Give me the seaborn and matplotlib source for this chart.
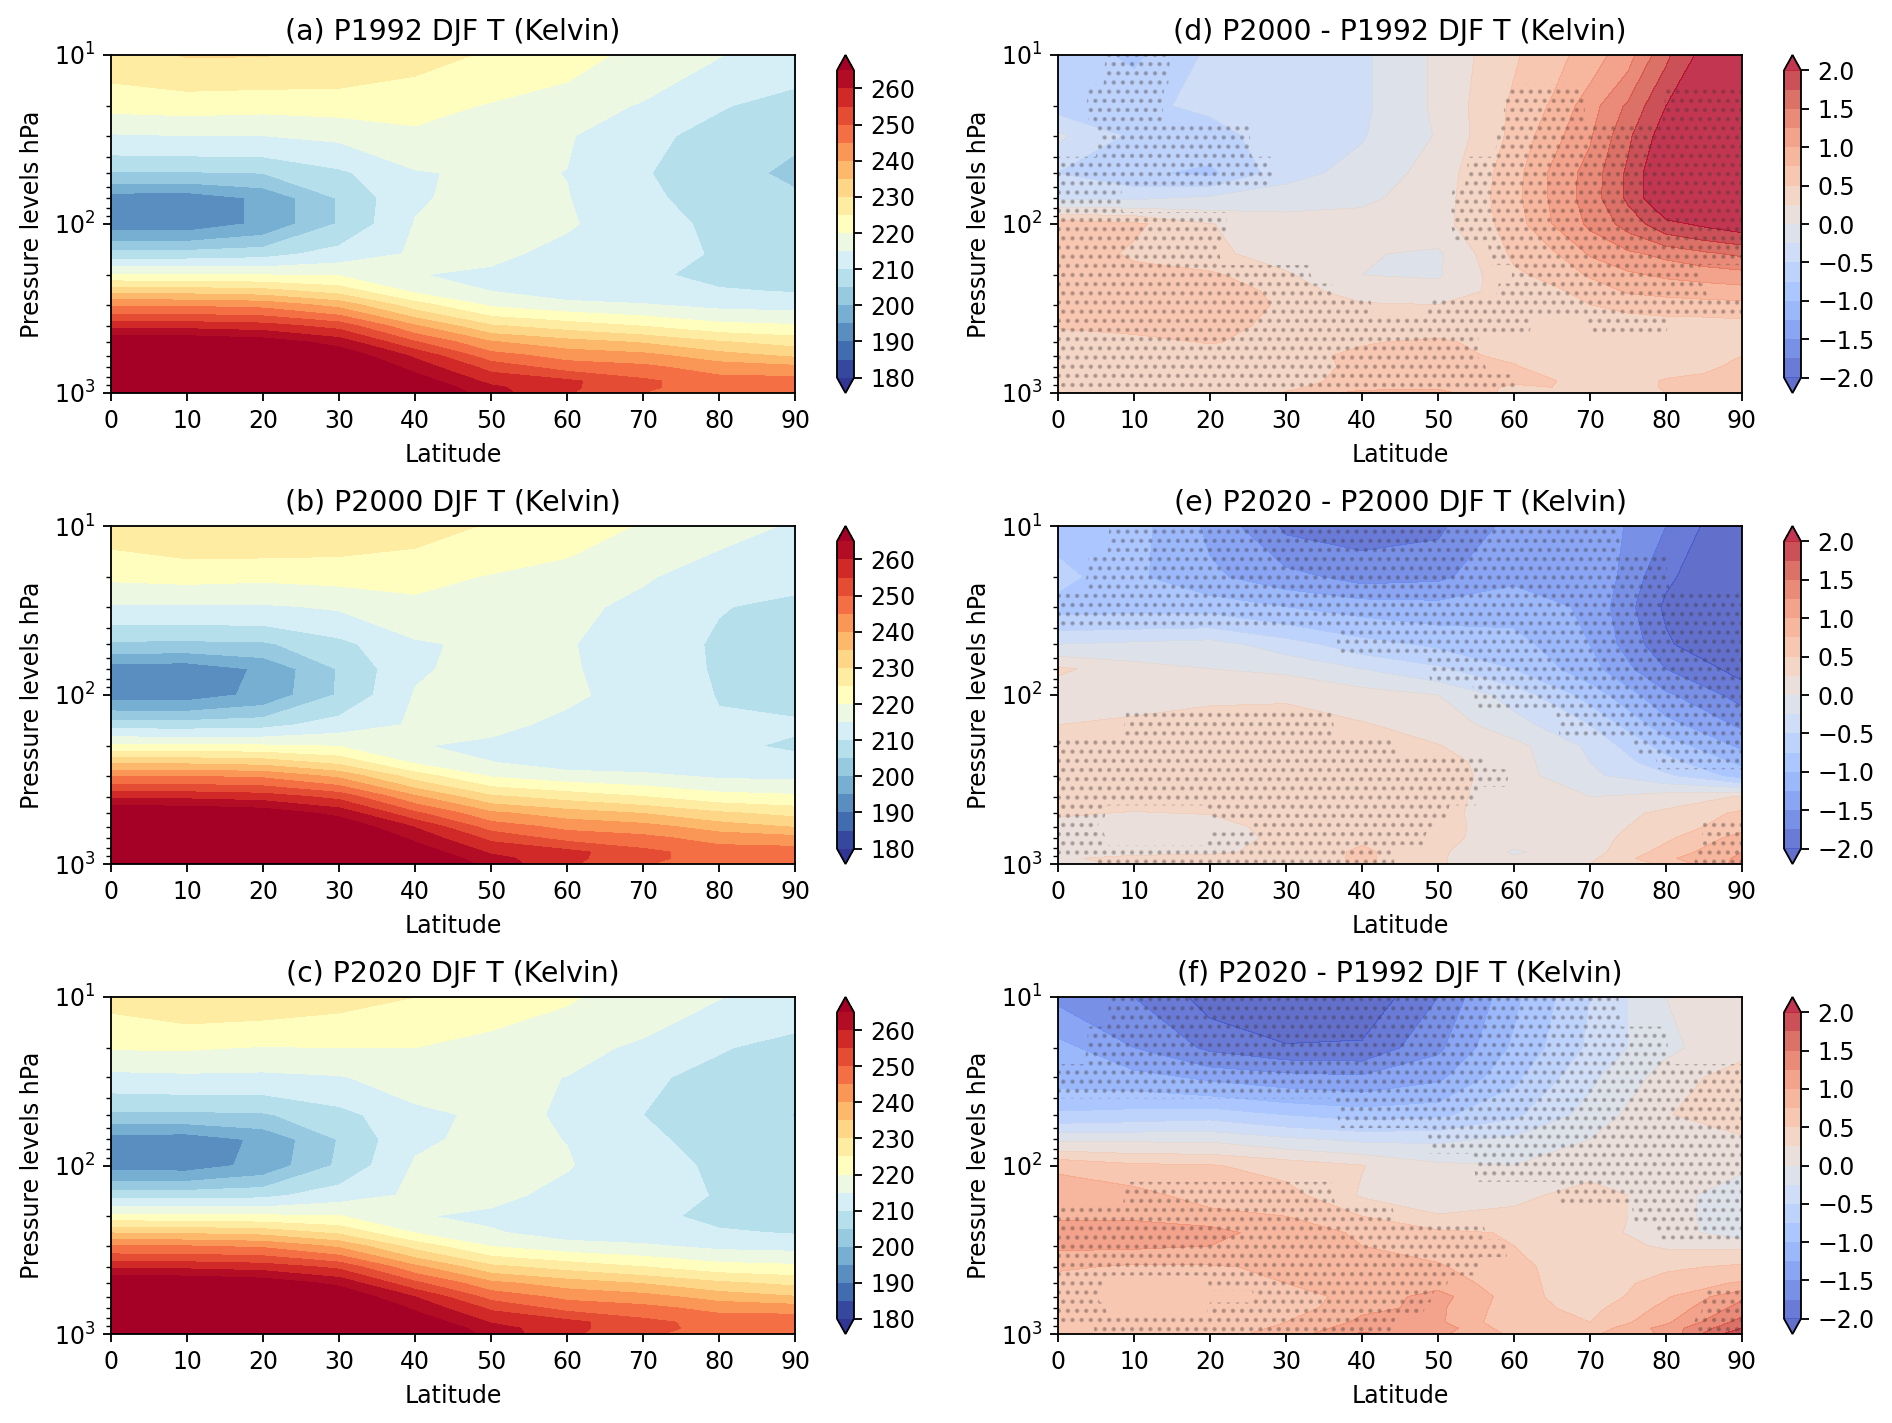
import numpy as np
import matplotlib
matplotlib.use("Agg")
import matplotlib.pyplot as plt
import seaborn as sns

sns.set_theme(style="ticks", rc={"font.family": "DejaVu Sans", "axes.edgecolor": "black",
                                 "xtick.color": "black", "ytick.color": "black",
                                 "text.color": "black", "axes.labelcolor": "black",
                                 "hatch.linewidth": 1.15})

pressure = [10, 20, 30, 50, 70, 100, 150, 200, 250, 300, 400, 500, 600, 700, 850, 925, 1000]
latitude = [0, 10, 20, 30, 40, 50, 60, 70, 80, 90]
latitude_d = [0, 10, 20, 30, 40, 50, 60, 65, 70, 75, 80, 85, 90]
xtick_labels = latitude
t_ticks = [180, 190, 200, 210, 220, 230, 240, 250, 260]
d_ticks = [-2.0, -1.5, -1.0, -0.5, 0.0, 0.5, 1.0, 1.5, 2.0]

# Temperature, one list per latitude, top of the atmosphere to the surface
t_a_columns = [
    [228, 221.5, 214.5, 204.5, 192.4, 192, 207, 220.5, 233.5, 244, 258.5, 270, 276, 282, 288, 292, 295],
    [230.3, 222, 215, 204.5, 192, 192, 207, 220.5, 233, 244, 258, 270, 275, 281, 287, 290, 293],
    [230.2, 221.5, 215, 205, 196, 196, 208, 220, 232, 243, 257, 268, 273, 278, 283, 286, 288],
    [229, 222, 216, 209, 205.5, 205.5, 212, 219.5, 228, 238, 253, 263, 269, 273, 278, 281, 283],
    [226.5, 222, 218.8, 214.5, 214.5, 215.2, 215.6, 215.2, 219, 227, 240.5, 250.5, 259, 263, 268, 270, 272],
    [224.5, 219.5, 217.5, 216, 216.5, 217, 216.5, 213.8, 215, 219, 230.5, 240.5, 247, 253, 258.5, 261, 262],
    [222, 217.5, 215.5, 214.9, 215.2, 215.7, 213, 211.5, 212, 216.5, 227.5, 237, 243, 247.5, 256, 256, 255.5],
    [218.5, 214.5, 211, 210.2, 210.7, 211.3, 212, 211, 211.5, 215.3, 224.7, 234.5, 241.5, 246, 251, 250.8, 250],
    [215.2, 210.3, 208.7, 208.5, 208.5, 209.3, 209.5, 208.5, 210.5, 213.5, 221.5, 230.5, 237, 242.5, 247, 247.5, 247],
    [212, 208.5, 206.5, 203, 206.5, 207, 207, 207.5, 209.7, 213, 220.5, 228, 234, 241, 247, 247, 246],
]
t_b_columns = [
    [227.4, 220.9, 214.3, 204.0, 192.1, 192.7, 207.7, 221.2, 234.2, 244.6, 259.0, 270.4, 276.4, 282.4, 288.4, 292.3, 295.3],
    [229.5, 221.5, 214.5, 203.8, 191.7, 192.6, 207.5, 221.1, 233.7, 244.7, 258.6, 270.4, 275.3, 281.3, 287.3, 290.3, 293.3],
    [229.8, 221, 214.4, 204.2, 195.8, 196.3, 208.3, 220.6, 232.7, 243.7, 257.6, 268.5, 273.4, 278.3, 283.3, 286.3, 288.3],
    [228.6, 221.6, 215.6, 208.6, 205.4, 205.6, 212.2, 219.8, 228.4, 238.5, 253.4, 263.4, 269.4, 273.4, 278.4, 281.5, 283.5],
    [226.8, 221.7, 218.5, 214.3, 214.4, 215.3, 215.6, 215.3, 219.1, 227.3, 240.9, 251, 259.6, 263.6, 268.6, 270.6, 272.9],
    [224.6, 219.6, 217.5, 216.1, 216.6, 217.2, 216.5, 213.8, 215.1, 219.3, 230.9, 241, 247.6, 253.6, 259.2, 261.7, 262.9],
    [222.4, 218, 216.5, 215.4, 215.6, 216, 213.6, 211.9, 212.4, 216.9, 227.9, 237.4, 243.5, 248, 256.6, 256.5, 255.9],
    [219.6, 215.6, 213.5, 212.4, 212.5, 212.8, 213.1, 212.4, 212.2, 215.9, 225.1, 234.8, 241.8, 246.3, 251.4, 251.1, 250.3],
    [216.7, 212.3, 210.2, 209.4, 209.5, 209.8, 210.4, 210.5, 211.5, 214.1, 221.9, 230.8, 237.4, 242.9, 247.5, 248.1, 247.5],
    [214.5, 211.1, 209.1, 206, 208, 209, 210.4, 209.6, 210.8, 213.7, 220.9, 228.4, 234.5, 241.5, 247.6, 247.6, 246.6],
]
t_c_columns = [
    [226.5, 220.4, 213.4, 203.8, 192.3, 192.7, 207.9, 221.5, 234.7, 245, 259.3, 270.6, 276.6, 282.6, 288.6, 292.6, 295.7],
    [228.6, 220.5, 213.9, 203.9, 192, 192.6, 207.9, 221.5, 234.2, 245, 258.7, 270.6, 275.6, 281.6, 287.6, 290.6, 293.7],
    [228.1, 219.7, 213.7, 204.4, 196, 196.5, 208.6, 220.9, 233.1, 244, 257.7, 268.7, 273.6, 278.6, 283.6, 286.6, 288.7],
    [226.6, 220, 214.6, 208.3, 205.3, 205.9, 212.6, 220.3, 228.9, 238.9, 253.8, 263.8, 269.6, 273.6, 278.8, 281.8, 283.9],
    [225, 220, 217.4, 213.7, 214.2, 215.5, 215.8, 215.4, 219.7, 227.8, 241.3, 251.3, 259.9, 264, 269, 271.2, 273.3],
    [222.8, 218, 216.2, 216, 216.2, 217, 216.6, 213.8, 215.6, 219.7, 231.3, 241.4, 248.1, 254, 259.6, 262.2, 263],
    [220.5, 216.6, 214.9, 214.6, 214.9, 215.4, 213.2, 211.9, 212.5, 217, 228, 237.6, 243.6, 248.1, 256.6, 256.6, 256.2],
    [217.8, 214.1, 210.7, 210, 210.7, 211.4, 212.4, 211.4, 211.9, 215.7, 225.1, 234.8, 241.8, 246.4, 251.5, 251.4, 250.7],
    [215.2, 210.3, 208.8, 208.7, 208.7, 209.4, 209.6, 208.6, 210.6, 213.7, 222, 231.1, 237.7, 243.3, 248, 248.6, 248],
    [212.2, 208.7, 206.9, 204.8, 206.7, 207.1, 206.9, 207.4, 209.6, 213.2, 221.1, 228.8, 235.2, 242.4, 248.6, 248.8, 248],
]

# Differences, one list per pressure level
dt_d_rows = [
    [-.6, -.8, -.45, -.4, -.3, .05, .47, .65, .87, 1.15, 1.7, 2.1, 2.4],
    [-.6, -.55, -.45, -.4, -.3, .05, .55, .78, 1.14, 1.55, 2.0, 2.3, 2.6],
    [-.2, -.55, -.6, -.35, -.27, .02, .57, .9, 1.22, 1.7, 2.15, 2.5, 2.7],
    [-.5, -.7, -.8, -.35, -.15, .1, .65, 1.05, 1.35, 1.8, 2.3, 2.6, 2.7],
    [-.3, -.3, -.2, -.1, -.05, .12, .67, 1.04, 1.37, 1.8, 2.3, 2.6, 2.7],
    [.65, .55, .26, .1, .1, .15, .62, 1.0, 1.3, 1.6, 1.93, 2.05, 2.15],
    [.7, .45, .3, .15, .02, -.04, .55, .7, 1.03, 1.2, 1.32, 1.45, 1.55],
    [.72, .6, .55, .28, .0, -.03, .45, .58, .78, .95, 1.05, 1.1, 1.15],
    [.72, .65, .7, .4, .1, .1, .36, .44, .6, .78, .82, .87, .9],
    [.6, .65, .7, .45, .28, .25, .38, .38, .5, .58, .65, .66, .68],
    [.52, .6, .62, .4, .35, .35, .36, .34, .36, .36, .36, .37, .4],
    [.4, .4, .52, .4, .48, .55, .36, .34, .32, .33, .33, .37, .42],
    [.4, .33, .35, .42, .55, .57, .45, .42, .32, .33, .36, .4, .5],
    [.35, .3, .3, .4, .55, .6, .52, .4, .33, .37, .42, .46, .55],
    [.35, .3, .3, .4, .6, .65, .55, .52, .36, .42, .52, .55, .57],
    [.3, .3, .3, .45, .65, .7, .45, .5, .34, .42, .52, .55, .57],
    [.3, .3, .3, .52, .85, .85, .4, .3, .3, .38, .5, .55, .55],
]
dt_e_rows = [
    [-.85, -.9, -1.3, -1.8, -1.85, -1.8, -1.4, -1.3, -1.75, -2.3],
    [-.65, -.95, -1.2, -1.4, -1.6, -1.55, -1.3, -1.25, -1.95, -2.3],
    [-.85, -.85, -.85, -1.0, -1.1, -1.15, -1.1, -1.3, -2.05, -2.4],
    [-.25, -.2, -.15, -.38, -.65, -.8, -.9, -1.25, -1.95, -2.4],
    [.3, .1, .0, -.05, -.25, -.45, -.75, -1.15, -1.75, -2.1],
    [.1, .15, .18, .2, .12, .0, -.35, -.85, -1.45, -1.85],
    [.25, .3, .4, .4, .27, .15, -.15, -.5, -1.15, -1.55],
    [.4, .4, .45, .45, .4, .26, .08, -.3, -.85, -1.3],
    [.43, .45, .47, .47, .43, .35, .1, -.25, -.65, -1.05],
    [.42, .42, .42, .45, .42, .38, .1, -.2, -.45, -.85],
    [.38, .33, .3, .4, .35, .35, .1, .0, .12, .27],
    [.27, .24, .26, .38, .36, .33, .1, .12, .3, .55],
    [.2, .15, .15, .35, .35, .33, .12, .15, .35, .65],
    [.1, .1, .12, .32, .45, .33, .1, .15, .45, .85],
    [.15, .15, .22, .3, .55, .3, -.03, .15, .6, 1.0],
    [.2, .35, .3, .32, .55, .28, .03, .2, .7, 1.05],
    [.15, .3, .3, .3, .55, .27, .1, .25, .55, 1.1],
]
dt_f_rows = [
    [-1.55, -1.75, -2.1, -2.4, -2.2, -1.75, -1.05, -.5, .0, .15],
    [-1.15, -1.5, -1.8, -1.95, -1.95, -1.55, -.95, -.45, -.05, .15],
    [-1.1, -1.15, -1.3, -1.4, -1.45, -1.3, -.8, -.3, .1, .4],
    [-.7, -.65, -.6, -.75, -.85, -.8, -.55, -.15, .23, .45],
    [-.05, -.05, -.05, -.2, -.3, -.3, -.2, .0, .2, .2],
    [.7, .55, .52, .4, .26, .05, .0, .1, .08, .05],
    [.9, .85, .62, .6, .22, .1, .15, .4, .1, -.15],
    [.95, .95, .85, .75, .5, .27, .35, .4, .1, -.15],
    [1.15, 1.15, 1.1, .85, .72, .55, .48, .35, .12, -.15],
    [1.05, 1.05, 1.0, .85, .75, .65, .5, .35, .22, .2],
    [.8, .7, .72, .8, .8, .78, .55, .38, .45, .55],
    [.6, .6, .72, .75, .8, .9, .6, .32, .62, .78],
    [.6, .6, .55, .62, .85, 1.1, .62, .32, .72, 1.2],
    [.6, .55, .55, .6, .95, 1.05, .6, .42, .82, 1.35],
    [.6, .58, .55, .75, 1.05, 1.05, .55, .5, .95, 1.6],
    [.62, .6, .6, .8, 1.15, 1.15, .6, .6, 1.1, 1.75],
    [.65, .65, .65, .85, 1.3, 1.05, .7, .7, 1.05, 2.0],
]

# Stippled latitude ranges, one list per pressure level
sig_d = [
    [(6.5, 14.5)], [(4, 13.5), (59, 69), (80, 90)], [(5.5, 25), (58, 90)], [(0, 28), (54, 90)],
    [(0, 8), (52, 90)], [(0, 22), (52, 90)], [(0, 21), (57, 90)], [(0, 33), (60, 84)],
    [(0, 36), (58, 85)], [(0, 41), (49, 90)], [(0, 62), (70, 80)], [(0, 55)], [(0, 55)],
    [(0, 56)], [(0, 60)], [(0, 60)], [(0, 60)],
]
sig_e = [
    [(7, 73.5)], [(4, 80)], [(0, 90)], [(37, 90)], [(49, 90)], [(55, 90)],
    [(9, 36), (66, 90)], [(0, 44), (76, 90)], [(0, 56), (79, 90)], [(0, 59)], [(0, 55)],
    [(0, 6), (20, 51)], [(0, 5), (26, 49), (85, 90)], [(0, 6), (20, 48), (85, 90)],
    [(0, 44), (84, 90)], [(5, 44), (84, 90)], [(5, 44), (84, 90)],
]
sig_f = [
    [(7, 73.5)], [(4, 80)], [(0, 90)], [(37, 90)], [(49, 90)], [(55, 90)],
    [(9, 36), (66, 90)], [(0, 44), (76, 90)], [(0, 56), (79, 90)], [(0, 59)], [(0, 55)],
    [(0, 6), (20, 51)], [(0, 5), (26, 49), (85, 90)], [(0, 6), (20, 48), (85, 90)],
    [(0, 44), (84, 90)], [(5, 44), (84, 90)], [(5, 44), (84, 90)],
]

titles_left = ["(a) P1992 DJF T (Kelvin)", "(b) P2000 DJF T (Kelvin)", "(c) P2020 DJF T (Kelvin)"]
titles_right = ["(d) P2000 - P1992 DJF T (Kelvin)", "(e) P2020 - P2000 DJF T (Kelvin)",
                "(f) P2020 - P1992 DJF T (Kelvin)"]

W, H, DPI = 1892, 1423, 165
FS = 10.3
fig = plt.figure(figsize=(W / DPI, H / DPI), dpi=DPI, facecolor="white")
lat = np.array(latitude)
p = np.array(pressure)
fine_lat = np.arange(0, 90.25, 0.5)


def place(left, right, top, bottom):
    return fig.add_axes([left / W, 1 - bottom / H, (right - left) / W, (bottom - top) / H])


def dress(ax, title):
    ax.set_yscale("log")
    ax.set_ylim(1000, 10)
    ax.set_xlim(0, 90)
    ax.set_xticks(latitude)
    ax.set_xticklabels([str(v) for v in xtick_labels])
    ax.set_xlabel("Latitude", fontsize=FS, labelpad=4.5)
    ax.set_ylabel("Pressure levels hPa", fontsize=FS, labelpad=4)
    ax.set_title(title, fontsize=FS * 1.2, pad=6.5)
    ax.tick_params(labelsize=FS, length=3.5, width=0.8)
    ax.tick_params(which="minor", length=2, width=0.6, left=True)
    for s in ax.spines.values():
        s.set_linewidth(0.8)
        s.set_color("black")


def add_bar(cf, left, top, bottom, ticks):
    cax = place(left, left + 17, top, bottom)
    cb = fig.colorbar(cf, cax=cax, ticks=ticks)
    cb.ax.tick_params(labelsize=FS, length=3.5, width=0.8)
    cb.outline.set_linewidth(0.8)
    cb.outline.set_edgecolor("black")
    return cb


tops = [55, 526, 997]
bottoms = [393, 864, 1334]

cmap_t = sns.color_palette("RdYlBu_r", as_cmap=True)
levels_t = np.arange(180, 266, 5)
for cols, title, top, bottom in zip([t_a_columns, t_b_columns, t_c_columns], titles_left, tops, bottoms):
    ax = place(111, 795, top, bottom)
    cf = ax.contourf(lat, p, np.array(cols).T, levels=levels_t, cmap=cmap_t, extend="both")
    dress(ax, title)
    add_bar(cf, 837, top, bottom, t_ticks)

cmap_d = sns.color_palette("coolwarm", as_cmap=True)
levels_d = np.arange(-2, 2.01, 0.25)
for rows, lats, sig, title, top, bottom in zip([dt_d_rows, dt_e_rows, dt_f_rows], [latitude_d, latitude, latitude],
                                               [sig_d, sig_e, sig_f], titles_right, tops, bottoms):
    ax = place(1058, 1742, top, bottom)
    cf = ax.contourf(np.array(lats), p, np.array(rows), levels=levels_d, cmap=cmap_d, extend="both", alpha=0.8)
    mask = np.zeros((len(pressure), fine_lat.size))
    for i, ranges in enumerate(sig):
        for lo, hi in ranges:
            mask[i, (fine_lat >= lo) & (fine_lat <= hi)] = 1
    st = ax.contourf(fine_lat, p, mask, levels=[0.5, 1.5], colors="none", hatches=["..."])
    st.set_edgecolor((0.25, 0.2, 0.2, 0.3))
    st.set_linewidth(0)
    dress(ax, title)
    add_bar(cf, 1784, top, bottom, d_ticks)

fig.savefig("out.png", dpi=DPI, facecolor="white")
